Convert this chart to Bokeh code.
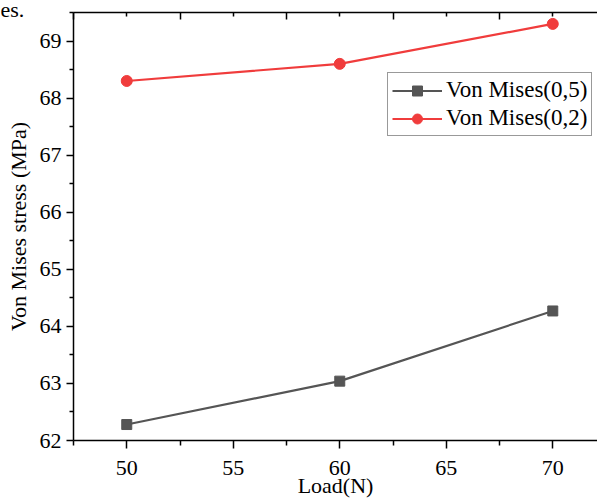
from bokeh.plotting import figure
from bokeh.models import LinearAxis, FixedTicker, Range1d, Legend, LegendItem, Title
from bokeh.embed import file_html
from bokeh.resources import INLINE

loads = [50, 60, 70]
vm_05 = [62.28, 63.04, 64.27]
vm_02 = [68.30, 68.60, 69.30]
series_names = ["Von Mises(0,5)", "Von Mises(0,2)"]
x_major = [50, 55, 60, 65, 70]
x_minor = [47.5, 52.5, 57.5, 62.5, 67.5, 72.5]
y_major = [62, 63, 64, 65, 66, 67, 68, 69]
y_minor = [62.5, 63.5, 64.5, 65.5, 66.5, 67.5, 68.5, 69.5]
x_title = "Load(N)"
y_title = "Von Mises stress (MPa)"
caption_fragment = "es."

FONT = "Liberation Serif"

p = figure(width=597, height=501, output_backend="svg", toolbar_location=None,
           x_range=Range1d(47.5, 72.1), y_range=Range1d(62, 69.5),
           min_border_left=73, min_border_top=12, min_border_right=0, min_border_bottom=61,
           x_axis_location=None, y_axis_location=None)
p.outline_line_color = None
p.grid.visible = False
p.background_fill_color = "white"
p.border_fill_color = "white"

def style(ax):
    ax.axis_line_color = "black"
    ax.axis_line_width = 1.5
    ax.major_tick_line_color = "black"
    ax.major_tick_line_width = 1.5
    ax.minor_tick_line_color = "black"
    ax.minor_tick_line_width = 1.5
    ax.major_label_text_font = FONT
    ax.major_label_text_font_size = "22px"
    ax.major_label_text_color = "black"
    ax.axis_label_text_font = FONT
    ax.axis_label_text_font_size = "22px"
    ax.axis_label_text_font_style = "normal"
    ax.axis_label_text_color = "black"

xb = LinearAxis(ticker=FixedTicker(ticks=x_major, minor_ticks=x_minor), axis_label=x_title)
style(xb)
xb.major_tick_out = 8
xb.major_tick_in = 0
xb.minor_tick_out = 5
xb.minor_tick_in = 0
xb.major_label_standoff = 12
xb.axis_label_standoff = -5
p.add_layout(xb, "below")

yl = LinearAxis(ticker=FixedTicker(ticks=y_major, minor_ticks=y_minor), axis_label=y_title)
style(yl)
yl.major_tick_out = 7
yl.major_tick_in = 0
yl.minor_tick_out = 4
yl.minor_tick_in = 0
yl.major_label_standoff = 5
yl.axis_label_standoff = 6
p.add_layout(yl, "left")

xt = LinearAxis(ticker=FixedTicker(ticks=x_minor, minor_ticks=x_major))
style(xt)
xt.major_label_text_font_size = "0px"
xt.major_label_text_color = None
xt.major_tick_out = 0
xt.major_tick_in = 7
xt.minor_tick_out = 0
xt.minor_tick_in = 4
xt.major_label_standoff = 0
p.add_layout(xt, "above")

cap = Title(text=caption_fragment, align="left", offset=-73, standoff=-18,
            text_font=FONT, text_font_size="22px", text_font_style="normal", text_color="black")
p.add_layout(cap, "above")

gray = "#555555"
red = "#f03c3c"
l1 = p.line(loads, vm_05, line_color=gray, line_width=2.2)
m1 = p.scatter(loads, vm_05, marker="square", size=10, fill_color=gray, line_color=gray)
l2 = p.line(loads, vm_02, line_color=red, line_width=2.2)
m2 = p.scatter(loads, vm_02, marker="circle", size=11, fill_color=red, line_color=red)

legend = Legend(items=[LegendItem(label=series_names[0], renderers=[l1, m1]),
                       LegendItem(label=series_names[1], renderers=[l2, m2])],
                location=(314, 304))
legend.label_text_font = FONT
legend.label_text_font_size = "23px"
legend.label_text_color = "black"
legend.border_line_color = "#333333"
legend.border_line_width = 1.5
legend.glyph_width = 50
legend.glyph_height = 25
legend.label_height = 25
legend.spacing = 2
legend.padding = 4
legend.margin = 0
legend.label_standoff = 4
legend.background_fill_alpha = 1
p.add_layout(legend, "center")

open("out.html", "w").write(file_html(p, INLINE))
